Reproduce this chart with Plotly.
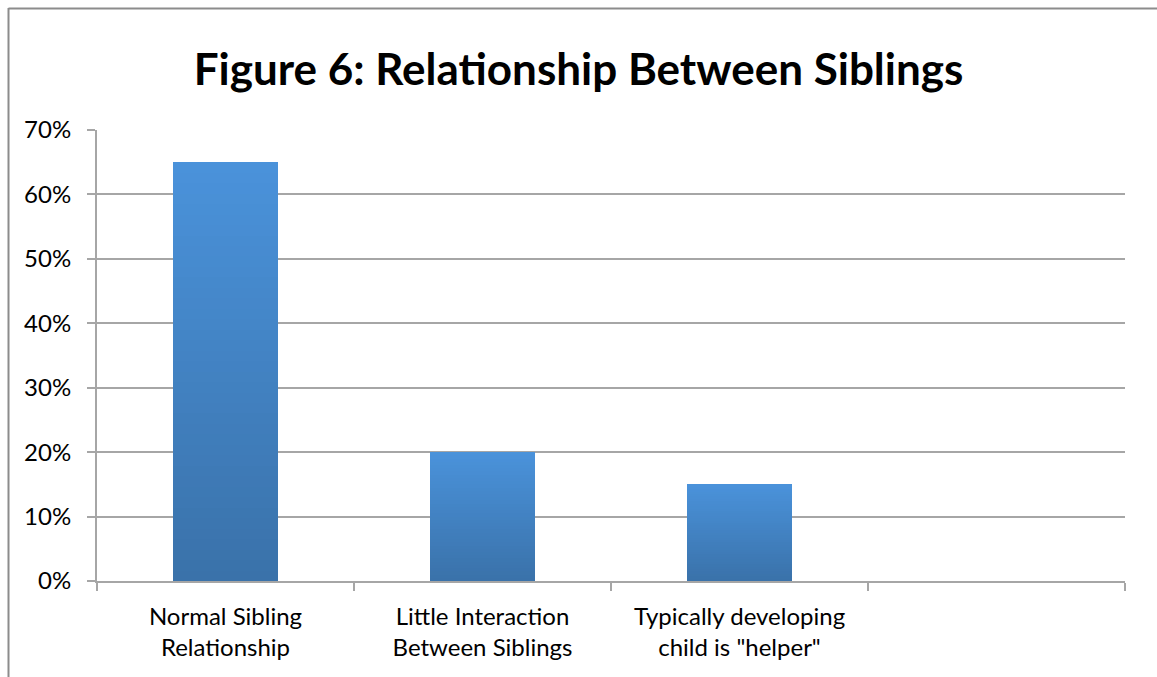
import plotly.graph_objects as go

categories = ["Normal Sibling<br>Relationship", "Little Interaction<br>Between Siblings", "Typically developing<br>child is \"helper\""]
values = [0.65, 0.20, 0.15]
title_text = "Figure 6: Relationship Between Siblings"

N = 40
top = (74, 146, 218)
bot = (58, 114, 170)
xs = list(range(len(categories)))
fig = go.Figure()
for i in range(N):
    t = i / (N - 1)
    c = tuple(round(bot[k] + (top[k] - bot[k]) * t) for k in range(3))
    fig.add_trace(go.Bar(
        x=xs, y=[v / N for v in values], width=0.405,
        marker=dict(color="rgb(%d,%d,%d)" % c, line=dict(width=0)),
        showlegend=False, hoverinfo="skip"))

grid = "#a6a6a6"
fig.update_layout(
    width=1157, height=677,
    margin=dict(l=97, r=32, t=130, b=96),
    barmode="stack", bargap=0,
    plot_bgcolor="white", paper_bgcolor="white",
    title=dict(text="<b>" + title_text + "</b>", x=0.5, xanchor="center",
               y=1 - 70 / 677, yanchor="middle",
               font=dict(family="Lato", size=44, color="black")),
    font=dict(family="Lato", size=24, color="black"),
    xaxis=dict(range=[-0.5, 3.5], tickvals=xs, ticktext=categories,
               ticks="", showgrid=False, showline=True, linecolor=grid, linewidth=2,
               minor=dict(tickvals=[-0.5, 0.5, 1.5, 2.5, 3.5], ticks="outside",
                          ticklen=8, tickcolor=grid, tickwidth=2, showgrid=False),
               ticklabelstandoff=13,
               tickfont=dict(family="Lato", size=24), fixedrange=True),
    yaxis=dict(range=[0, 0.7], dtick=0.1, tickformat=".0%",
               showgrid=True, gridcolor=grid, gridwidth=1.5,
               showline=True, linecolor=grid, linewidth=2,
               ticks="outside", ticklen=8, tickcolor=grid, tickwidth=2,
               ticklabelstandoff=11,
               zeroline=False, tickfont=dict(family="Lato", size=24)),
)
fig.add_shape(type="line", xref="paper", yref="paper",
              x0=(8.5 - 97) / 1028, x1=(8.5 - 97) / 1028, y0=(581 - 8) / 451, y1=(581 - 700) / 451,
              line=dict(color="#8c8c8c", width=2))
fig.add_shape(type="line", xref="paper", yref="paper",
              x0=(8.5 - 97) / 1028, x1=(1200 - 97) / 1028, y0=(581 - 8.5) / 451, y1=(581 - 8.5) / 451,
              line=dict(color="#8c8c8c", width=2))
fig.write_html("out.html", config={"displayModeBar": False},
               post_script="document.body.style.margin='0';")
